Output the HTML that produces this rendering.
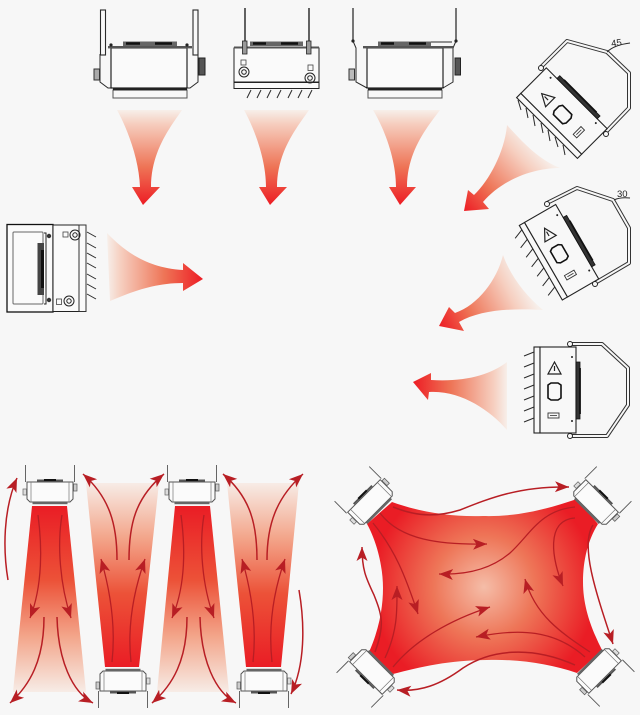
<!DOCTYPE html>
<html><head><meta charset="utf-8"><style>
html,body{margin:0;padding:0;background:#f7f7f7;width:640px;height:715px;overflow:hidden}
svg{display:block}
text{font-family:"Liberation Sans",sans-serif;fill:#222}
.l{fill:none;stroke:#2a2a2a;stroke-width:1}
.w{fill:#f8f8f8;stroke:#2a2a2a;stroke-width:1.1}
.a{fill:none;stroke:#b81e24;stroke-width:1.5;marker-end:url(#h)}
.b{fill:none;stroke:#b81e24;stroke-width:1.3;marker-end:url(#h)}
.br{fill:none;stroke:#333;stroke-width:4;stroke-linejoin:round}
.bi{fill:none;stroke:#f7f7f7;stroke-width:2;stroke-linejoin:round}
</style></head><body>
<svg width="640" height="715" viewBox="0 0 640 715" xmlns="http://www.w3.org/2000/svg">
<defs>
<marker id="h" markerUnits="userSpaceOnUse" markerWidth="16" markerHeight="13" refX="14" refY="6.500" orient="auto">
<path d="M14,6.500 L0,1 L3.500,6.500 L0,12 Z" fill="#b81e24"/>
</marker>
<linearGradient id="gd" x1="0" y1="0" x2="0" y2="1"><stop offset="0" stop-color="#f7efea"/><stop offset=".14" stop-color="#f6cfc0"/><stop offset=".6" stop-color="#ee7456"/><stop offset="1" stop-color="#ed1c24"/></linearGradient>
<linearGradient id="gr" x1="107" y1="0" x2="203" y2="0" gradientUnits="userSpaceOnUse"><stop offset="0" stop-color="#f7efea"/><stop offset=".14" stop-color="#f6cfc0"/><stop offset=".6" stop-color="#ee7456"/><stop offset="1" stop-color="#ed1c24"/></linearGradient>
<linearGradient id="g45" x1="535" y1="145" x2="464" y2="211" gradientUnits="userSpaceOnUse"><stop offset="0" stop-color="#f7efea"/><stop offset=".2" stop-color="#f6cfc0"/><stop offset=".65" stop-color="#ee7456"/><stop offset="1" stop-color="#ed1c24"/></linearGradient>
<linearGradient id="g30" x1="525" y1="282" x2="439" y2="326" gradientUnits="userSpaceOnUse"><stop offset="0" stop-color="#f7efea"/><stop offset=".2" stop-color="#f6cfc0"/><stop offset=".65" stop-color="#ee7456"/><stop offset="1" stop-color="#ed1c24"/></linearGradient>
<linearGradient id="gl" x1="507" y1="0" x2="413" y2="0" gradientUnits="userSpaceOnUse"><stop offset="0" stop-color="#f7efea"/><stop offset=".14" stop-color="#f6cfc0"/><stop offset=".6" stop-color="#ee7456"/><stop offset="1" stop-color="#ed1c24"/></linearGradient>
<linearGradient id="bd" x1="0" y1="0" x2="0" y2="1"><stop offset="0" stop-color="#ea1d25"/><stop offset=".4" stop-color="#ec5238"/><stop offset=".7" stop-color="#f3a58a"/><stop offset="1" stop-color="#f7ece6"/></linearGradient>
<linearGradient id="bu" x1="0" y1="1" x2="0" y2="0"><stop offset="0" stop-color="#ea1d25"/><stop offset=".4" stop-color="#ec5238"/><stop offset=".7" stop-color="#f3a58a"/><stop offset="1" stop-color="#f7ece6"/></linearGradient>
<radialGradient id="rg" cx="484" cy="587" r="112" gradientUnits="userSpaceOnUse"><stop offset="0" stop-color="#f5bda8"/><stop offset=".45" stop-color="#ee7658"/><stop offset="1" stop-color="#ea1d25"/></radialGradient>

<!-- small heater -->
<g id="sm">
<path d="M-23,-10 H23 V7 L20,10 H-20 L-23,7 Z" fill="#fbfbfb" stroke="#555" stroke-width="1"/>
<path d="M-19,-10 V10 M19,-10 V10" stroke="#777" stroke-width=".7" fill="none"/>
<rect x="-17.500" y="10" width="35" height="2.200" fill="#666"/>
<path d="M-13,-11.500 H13" stroke="#555" stroke-width="2"/>
<path d="M-6,-12 H6" stroke="#111" stroke-width="2"/>
<path d="M-24.500,-27 V-10 M24.500,-27 V-10" stroke="#555" stroke-width=".9"/>
<rect x="-27" y="-3" width="3.500" height="6" fill="#ddd" stroke="#666" stroke-width=".7"/>
<rect x="23.500" y="-8" width="3.500" height="7" fill="#ccc" stroke="#555" stroke-width=".7"/>
</g>

<!-- side view heater, local origin at body centre -->
<g id="side">
<rect x="-24" y="-43" width="6" height="86" fill="#f8f8f8" stroke="#222" stroke-width="1.100"/>
<rect x="-18" y="-43" width="36" height="86" fill="#f8f8f8" stroke="#222" stroke-width="1.100"/>
<path d="M18,-28 L22,-28 V29 L18,29 Z" fill="#333" stroke="#111" stroke-width=".8"/>
<path d="M22,-22 V24" stroke="#111" stroke-width="1.800"/>
<path d="M-3.500,-28 L-10,-16 H3 Z" fill="none" stroke="#222" stroke-width="1.200"/>
<path d="M-3.500,-24 V-19" stroke="#222" stroke-width="1.200"/>
<path d="M-10,-5 L-7,-7 H0 L3,-5 V8 L0,10 H-7 L-10,8 Z" fill="none" stroke="#111" stroke-width="1.600"/>
<rect x="-10" y="23" width="11" height="5" fill="none" stroke="#333" stroke-width=".9"/>
<path d="M-8,25.500 H-1" stroke="#333" stroke-width=".8"/>
<circle cx="14" cy="-33" r="1" fill="#222"/><circle cx="14" cy="31" r="1" fill="#222"/>
</g>
<path id="hatch" class="l" d="M-34,-34 L-24,-38 M-34,-23 L-24,-27 M-34,-12 L-24,-16 M-34,-1 L-24,-5 M-34,10 L-24,6 M-34,21 L-24,17 M-34,32 L-24,28"/>
</defs>

<rect width="640" height="715" fill="#f7f7f7"/>

<!-- down arrows top row -->
<path fill="url(#gd)" d="M117,110 L182,110 C172,125 151,150 151,187 L160,187 L143,205 L132,187 L140,187 C139,160 128,130 117,110 Z"/>
<path fill="url(#gd)" d="M244,110 L309,110 C299,125 277,150 277,187 L287,187 L270,205 L259,187 L266,187 C266,160 255,130 244,110 Z"/>
<path fill="url(#gd)" d="M373,110 L440,110 C429,125 407,150 407,187 L416,187 L400,205 L389,187 L396,187 C396,160 385,130 373,110 Z"/>

<!-- left-facing arrow -->
<path fill="url(#gr)" d="M107,233 C125,252 148,268 183,270 L183,263 L203,279 L183,291 L183,283 C150,283 125,295 110,301 Z"/>
<!-- right arrows -->
<path fill="url(#g45)" d="M507,125 C505,150 490,180 474,195 L468,190 L464,211 L489,209 L483,202 C500,182 530,168 560,168 C540,160 525,145 507,125 Z"/>
<path fill="url(#g30)" d="M503,255 C497,280 478,305 455,313 L449,307 L439,326 L464,331 L459,322 C480,310 510,308 543,310 C525,295 510,275 503,255 Z"/>
<path fill="url(#gl)" d="M507,362 C490,375 465,382 431,380 L431,373 L413,382 L428,400 L429,392 C460,390 490,410 507,430 Z"/>

<!-- top heater 1 -->
<g>
<rect x="100.500" y="10" width="5" height="45" class="w"/>
<rect x="193" y="10" width="5" height="45" class="w"/>
<path d="M100,54 V82 L108,88 H111 M198,54 V82 L190,88 H187" class="l"/>
<rect x="111" y="48" width="76" height="40" fill="#fafafa" stroke="#111" stroke-width="1.100"/>
<rect x="113" y="90" width="74" height="8" fill="#f8f8f8" stroke="#555" stroke-width="1"/>
<rect x="113" y="88" width="74" height="2.400" fill="#222"/>
<rect x="108" y="46" width="84" height="2.400" fill="#555"/>
<rect x="123" y="41.500" width="54" height="4.500" fill="#666"/>
<path d="M126,43.500 H140 M155,43.500 H172" stroke="#111" stroke-width="2.400"/>
<rect x="94" y="69" width="5.500" height="11" fill="#aaa" stroke="#333"/>
<rect x="199" y="58" width="6" height="17" fill="#555" stroke="#222"/>
<circle cx="111" cy="45" r="1.600" fill="#222"/><circle cx="187" cy="45" r="1.600" fill="#222"/>
</g>
<!-- top heater 2 -->
<g>
<path d="M245,8 V42 M309,8 V42" stroke="#222" stroke-width="1.400"/>
<rect x="234" y="48" width="85" height="34" fill="#fafafa" stroke="#222" stroke-width="1"/>
<rect x="234" y="82.500" width="85" height="6" fill="#fafafa" stroke="#222" stroke-width="1"/>
<rect x="234" y="46.500" width="85" height="2" fill="#555"/>
<rect x="250" y="41.500" width="53" height="4.500" fill="#666"/>
<path d="M253,43.500 H266 M281,43.500 H298" stroke="#111" stroke-width="2.400"/>
<rect x="242.500" y="41" width="4.500" height="13" fill="#999" stroke="#222" stroke-width=".8"/>
<rect x="306.500" y="41" width="4.500" height="13" fill="#999" stroke="#222" stroke-width=".8"/>
<circle cx="244" cy="72" r="5" fill="none" stroke="#222"/><circle cx="244" cy="72" r="2.300" fill="none" stroke="#222"/>
<circle cx="310" cy="78" r="5" fill="none" stroke="#222"/><circle cx="310" cy="78" r="2.300" fill="none" stroke="#222"/>
<rect x="241" y="60" width="5" height="5" fill="none" stroke="#444" stroke-width=".8"/>
<rect x="308" y="65" width="5" height="5.500" fill="none" stroke="#444" stroke-width=".8"/>
<path d="M247,98 L251,90 M257,98 L261,90 M267,98 L271,90 M277,98 L281,90 M288,98 L292,90 M298,98 L302,90 M308,98 L312,90" class="l"/>
</g>
<!-- top heater 3 -->
<g>
<path d="M353,8 V40 M456,8 V40" stroke="#222" stroke-width="1.200"/>
<path d="M353,41 L356,48 V82 L367,88 M456,41 L453,48 V82 L443,88" class="l"/>
<circle cx="353" cy="41" r="1.600" fill="#222"/><circle cx="456" cy="41" r="1.600" fill="#222"/>
<rect x="367" y="48" width="76" height="40" fill="#fafafa" stroke="#111" stroke-width="1.100"/>
<rect x="368" y="90" width="74" height="8" fill="#f8f8f8" stroke="#555"/>
<rect x="368" y="88" width="74" height="2.400" fill="#222"/>
<rect x="363" y="46" width="90" height="2.400" fill="#555"/>
<rect x="378" y="41.500" width="53" height="4.500" fill="#666"/>
<path d="M381,43.500 H394 M409,43.500 H426" stroke="#111" stroke-width="2.400"/>
<path d="M431,42 H452" class="l"/>
<rect x="349" y="69" width="5.500" height="11" fill="#bbb" stroke="#333"/>
<rect x="455" y="58" width="5.500" height="17" fill="#555" stroke="#222"/>
</g>

<!-- left heater -->
<g>
<rect x="7" y="224.500" width="46" height="87.500" fill="#fafafa" stroke="#111" stroke-width="1.300"/>
<rect x="13" y="232" width="30" height="72" rx="1" fill="#fafafa" stroke="#666" stroke-width="1"/>
<rect x="53" y="225" width="26" height="86.500" fill="#fafafa" stroke="#222"/>
<rect x="79" y="225" width="7" height="86.500" fill="#fafafa" stroke="#333"/>
<rect x="37.500" y="243" width="6.500" height="52" fill="#444"/>
<rect x="41" y="250" width="3" height="38" fill="#111"/>
<path d="M44,233 H46 V304 H44" fill="#fafafa" stroke="#222"/>
<circle cx="49" cy="236" r="2.200" fill="#333"/><circle cx="49" cy="300" r="2.200" fill="#333"/>
<circle cx="75" cy="235" r="5" fill="none" stroke="#222"/><circle cx="75" cy="235" r="2.200" fill="none" stroke="#222"/>
<circle cx="69" cy="301" r="5" fill="none" stroke="#222"/><circle cx="69" cy="301" r="2.200" fill="none" stroke="#222"/>
<rect x="63" y="232" width="5" height="5" fill="none" stroke="#444" stroke-width=".8"/>
<rect x="56.500" y="299" width="5" height="5.500" fill="none" stroke="#444" stroke-width=".8"/>
<path d="M87,232 L96,237 M87,243 L96,248 M87,253 L96,258 M87,263 L96,268 M87,274 L96,279 M87,284 L96,289 M87,294 L96,299" class="l"/>
</g>

<!-- rotated heaters with brackets -->
<path d="M540,68 L567,41 L607,52 L629,73 V108 L605,133" class="br"/><path d="M540,68 L567,41 L607,52 L629,73 V108 L605,133" class="bi"/>
<use href="#side" transform="translate(564,111) rotate(-45)"/>
<path class="l" d="M518,100 L521,110 M526,108 L528,118 M533,115 L535,126 M541,123 L543,133 M548,130 L550,141 M555,137 L558,147 M563,145 L565,155"/>
<circle cx="541" cy="68" r="2.500" fill="#f8f8f8" stroke="#222"/><circle cx="606" cy="134" r="2.500" fill="#f8f8f8" stroke="#222"/>
<text x="611" y="46" font-size="9.500" transform="rotate(-8 617 42)">45</text>
<path d="M607,52 Q614,45 630,43" class="l"/>

<path d="M547,203 L577,188 L613,200 L629,228 V263 L595,283" class="br"/><path d="M547,203 L577,188 L613,200 L629,228 V263 L595,283" class="bi"/>
<use href="#side" transform="translate(561.600,250.700) rotate(-30)"/>
<use href="#hatch" transform="translate(561.600,250.700) rotate(-30)"/>
<circle cx="547" cy="204" r="2.500" fill="#f8f8f8" stroke="#222"/><circle cx="595" cy="284" r="2.500" fill="#f8f8f8" stroke="#222"/>
<text x="617" y="197" font-size="9.500">30</text>
<path d="M614,200 Q620,197 630,198" class="l"/>

<path d="M569,344 H602 L628,368 V405 L607,436 H569" class="br"/><path d="M569,344 H602 L628,368 V405 L607,436 H569" class="bi"/>
<use href="#side" transform="translate(558,390)"/>
<use href="#hatch" transform="translate(558,390)"/>
<circle cx="570" cy="344" r="2.500" fill="#f8f8f8" stroke="#222"/><circle cx="570" cy="436" r="2.500" fill="#f8f8f8" stroke="#222"/>

<!-- bottom-left beams -->
<path fill="url(#bd)" d="M32,506 H67 L86,692 H13 Z"/>
<path fill="url(#bu)" d="M105,667 H139 L159,483 H86 Z"/>
<path fill="url(#bd)" d="M175,506 H210 L229,692 H157 Z"/>
<path fill="url(#bu)" d="M246,667 H281 L299,483 H227 Z"/>

<use href="#sm" transform="translate(50,492)"/>
<use href="#sm" transform="translate(192,492)"/>
<use href="#sm" transform="translate(123,681) rotate(180)"/>
<use href="#sm" transform="translate(264,681) rotate(180)"/>

<path class="b" d="M38,515 C42,545 43,585 30,618"/>
<path class="b" d="M62,515 C57,545 60,585 71,618"/>
<path class="a" d="M44,617 C44,660 30,685 10,703"/>
<path class="a" d="M57,617 C58,660 72,692 93,703"/>
<path class="b" d="M181,515 C185,545 186,585 172,618"/>
<path class="b" d="M204,515 C199,545 202,585 214,618"/>
<path class="a" d="M187,617 C187,660 173,685 152,703"/>
<path class="a" d="M200,617 C201,660 215,692 236,703"/>
<path class="a" d="M8,580 C3,550 3,510 17,478"/>

<path class="a" d="M117,560 C117,525 110,498 83,474"/>
<path class="a" d="M129,560 C129,525 135,498 164,474"/>
<path class="b" d="M112,662 C116,625 110,590 101,559"/>
<path class="b" d="M131,662 C127,625 134,590 145,559"/>
<path class="a" d="M257,560 C257,525 251,498 223,474"/>
<path class="a" d="M267,560 C267,525 276,498 303,474"/>
<path class="b" d="M253,662 C257,625 251,590 242,559"/>
<path class="b" d="M272,662 C268,625 274,590 285,559"/>
<path class="a" d="M299,590 C305,625 305,665 291,694"/>

<!-- right panel -->
<path fill="url(#rg)" d="M392,502 C420,512 450,517 483,516 C520,517 550,508 577,499 L598,524 C588,540 583,560 583,582 C583,608 592,630 602,650 L577,673 C550,664 520,659 487,660 C450,660 420,667 393,674 L369,652 C378,632 383,610 383,588 C383,565 376,540 367,524 Z"/>

<use href="#sm" transform="translate(371,503) rotate(-45)"/>
<use href="#sm" transform="translate(595,503) rotate(45)"/>
<use href="#sm" transform="translate(373,671) rotate(225)"/>
<use href="#sm" transform="translate(598,670) rotate(135)"/>

<path class="a" d="M393,507 C420,518 440,516 460,510 C490,498 520,486 569,487"/>
<path class="b" d="M380,513 C400,540 440,545 487,544"/>
<path class="b" d="M373,523 C395,550 405,575 418,614"/>
<path class="b" d="M575,507 C540,510 530,535 510,553 C490,570 465,575 439,574"/>
<path class="b" d="M575,518 C545,520 552,560 563,586"/>
<path class="a" d="M593,525 C580,545 595,590 613,644"/>
<path class="b" d="M590,652 C560,632 535,615 525,579"/>
<path class="b" d="M585,657 C555,630 520,628 476,637"/>
<path class="a" d="M575,665 C530,645 490,650 463,668 C440,685 420,692 397,690"/>
<path class="b" d="M393,667 C415,640 450,620 490,607"/>
<path class="b" d="M385,658 C398,630 397,610 397,586"/>
<path class="a" d="M375,652 C385,625 382,615 374,595 C366,578 362,570 362,547"/>
</svg>
</body></html>
